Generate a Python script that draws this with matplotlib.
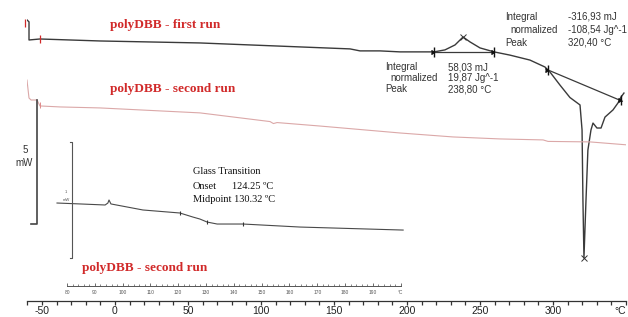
import matplotlib.pyplot as plt
from matplotlib.ticker import FixedLocator

# DSC traces, temperature in °C and heat flow in mW (arbitrary offset)
first_run_T = [-60.3, -58.9, -58.9, -51.4, -10.3, 58.2, 126.7, 161.0, 167.8, 181.5, 195.2,
               218.5, 226.0, 232.9, 238.4, 243.2, 250.0, 259.6, 270.5, 284.2, 294.5, 297.9,
               304.8, 311.6, 318.5, 319.9, 320.5, 321.2, 322.6, 323.9, 326.0, 327.4, 330.1,
               332.9, 335.6, 341.1, 344.5, 346.6, 348.6]
first_run_mW = [8.23, 8.15, 7.42, 7.46, 7.38, 7.30, 7.14, 7.06, 6.98, 6.98, 6.94,
                6.94, 7.02, 7.22, 7.54, 7.34, 7.10, 6.94, 6.81, 6.61, 6.33, 6.13,
                5.60, 5.10, 4.80, 3.79, 0.97, -1.37, 0.97, 2.98, 3.79, 4.07, 3.87,
                3.87, 4.31, 4.60, 4.88, 5.12, 5.28]

second_run_T = [-61.0, -60.3, -58.9, -57.5, -53.4, -51.4, -37.7, -10.3, 58.2, 106.2, 108.5,
                111.0, 140.4, 195.2, 231.5, 263.7, 293.2, 296.6, 325.3, 350.7]
second_run_mW = [5.32, 5.81, 5.08, 5.00, 5.00, 4.76, 4.72, 4.68, 4.48, 4.13, 4.05,
                 4.09, 3.95, 3.67, 3.51, 3.43, 3.39, 3.33, 3.31, 3.19]

# zoomed glass transition (second run)
inset_T = [76.4, 84.7, 93.7, 94.7, 95.1, 95.8, 107.3, 120.6, 125.3, 127.8, 130.4,
           134.0, 143.3, 163.8, 200.9]
inset_mW = [0.474, 0.466, 0.457, 0.474, 0.500, 0.466, 0.414, 0.388, 0.353, 0.336, 0.310,
            0.293, 0.293, 0.267, 0.241]

melt_base_T = [296.6, 347.5]
melt_base_mW = [6.21, 4.95]
cryst_base_T = [218.5, 259.6]
cryst_base_mW = [6.94, 6.94]
peaks_T = [238.4, 321.2]
peaks_mW = [7.54, -1.37]
limits_T = [218.5, 259.6, 296.6, 346.6]
limits_mW = [6.94, 6.94, 6.21, 5.00]
tg_marks_T = [120.6, 130.4, 143.3]
tg_marks_mW = [0.39, 0.31, 0.293]

main_ticks = [-50, 0, 50, 100, 150, 200, 250, 300, 350]
main_labels = ['-50', '0', '50', '100', '150', '200', '250', '300', '°C']
main_minor = list(range(-60, 351, 10))
inset_ticks = [80, 90, 100, 110, 120, 130, 140, 150, 160, 170, 180, 190, 200]
inset_labels = [str(t) for t in inset_ticks[:-1]] + ['°C']
inset_minor = list(range(80, 201, 2))

red = '#d12a2a'
W, H = 628, 317
fig = plt.figure(figsize=(6.28, 3.17), dpi=100)

# main axes
ax = fig.add_axes([27.4 / W, 16 / H, (626 - 27.4) / W, 301 / H])
ax.patch.set_alpha(0)
ax.set_xlim(-60, 350)
ax.set_ylim(-3.105, 9.032)
for s in ['left', 'right', 'top']:
    ax.spines[s].set_visible(False)
ax.spines['bottom'].set_color('#333333')
ax.spines['bottom'].set_linewidth(0.9)
ax.set_yticks([])
ax.xaxis.set_major_locator(FixedLocator(main_ticks))
ax.set_xticklabels(main_labels, fontsize=7.5, family='Liberation Sans', color='#222222')
ax.xaxis.set_minor_locator(FixedLocator(main_minor))
ax.tick_params(axis='x', which='both', direction='out', length=2.8, width=0.9,
               color='#333333', pad=0.5)
ax.get_xticklabels()[-1].set_ha('right')

ax.plot(first_run_T, first_run_mW, color='#3a3a3a', lw=1.0)
ax.plot(second_run_T, second_run_mW, color='#dba8a8', lw=0.8)
ax.plot(cryst_base_T, cryst_base_mW, color='#3a3a3a', lw=0.9)
ax.plot(melt_base_T, melt_base_mW, color='#3a3a3a', lw=0.9)
ax.plot(peaks_T, peaks_mW, ls='none', marker='x', ms=5, mew=0.7, color='#333333')
ax.plot(limits_T, limits_mW, ls='none', marker='|', ms=7, mew=1.0, color='#111111')
ax.plot(limits_T, limits_mW, ls='none', marker=5, ms=3, color='#111111')
ax.plot([-61.6, -51.4], [8.1, 7.46], ls='none', marker='|', ms=6, mew=0.9, color=red,
        clip_on=False)
ax.plot([-51.4], [4.78], ls='none', marker='|', ms=5, mew=0.7, color='#e08a8a')

# 5 mW scale bar
ax.plot([-57.5, -53.4, -53.4], [0, 0, 5], color='#444444', lw=1.2, clip_on=False)
ax.text(-61.6, 2.98, '5', fontsize=7, family='Liberation Sans', ha='center', va='center',
        color='#333333')
ax.text(-62.5, 2.46, 'mW', fontsize=7, family='Liberation Sans', ha='center', va='center',
        color='#333333')

title_kw = dict(fontsize=9.5, family='Liberation Serif', weight='bold', color=red,
                ha='left', va='center')
ax.text(-3.4, 8.02, 'polyDBB - first run', **title_kw)
ax.text(-3.4, 5.44, 'polyDBB - second run', **title_kw)
ax.text(-22.6, -1.77, 'polyDBB - second run', **title_kw)

ann_kw = dict(fontsize=7, family='Liberation Sans', color='#333333', va='center')
ax.text(267.1, 8.35, 'Integral', **ann_kw)
ax.text(270.5, 7.82, 'normalized', **ann_kw)
ax.text(267.1, 7.30, 'Peak', **ann_kw)
ax.text(310.3, 8.35, '-316,93 mJ', **ann_kw)
ax.text(310.3, 7.82, '-108,54 Jg^-1', **ann_kw)
ax.text(310.3, 7.30, '320,40 °C', **ann_kw)
ax.text(184.9, 6.33, 'Integral', **ann_kw)
ax.text(188.4, 5.89, 'normalized', **ann_kw)
ax.text(184.9, 5.44, 'Peak', **ann_kw)
ax.text(228.1, 6.33, '58,03 mJ', **ann_kw)
ax.text(228.1, 5.89, '19,87 Jg^-1', **ann_kw)
ax.text(228.1, 5.44, '238,80 °C', **ann_kw)

tg_kw = dict(fontsize=7.5, family='Liberation Serif', color='#111111', va='center')
ax.text(53.4, 2.10, 'Glass Transition', **tg_kw)
ax.text(53.4, 1.53, 'Onset', **tg_kw)
ax.text(80.1, 1.53, '124.25 ºC', **tg_kw)
ax.text(53.4, 0.97, 'Midpoint 130.32 ºC', **tg_kw)

# inset: zoom on the glass transition
ins = fig.add_axes([55.9 / W, 31 / H, 350.3 / W, 146 / H])
ins.patch.set_alpha(0)
ins.set_xlim(76, 202)
ins.set_ylim(-0.241, 1.017)
for s in ['left', 'right', 'top']:
    ins.spines[s].set_visible(False)
ins.spines['bottom'].set_bounds(80, 200)
ins.spines['bottom'].set_color('#555555')
ins.spines['bottom'].set_linewidth(0.7)
ins.set_yticks([])
ins.xaxis.set_major_locator(FixedLocator(inset_ticks))
ins.set_xticklabels(inset_labels, fontsize=3.5, family='Liberation Sans', color='#555555')
ins.xaxis.set_minor_locator(FixedLocator(inset_minor))
ins.tick_params(axis='x', which='major', direction='in', length=2.5, width=0.6,
                color='#555555', pad=3)
ins.tick_params(axis='x', which='minor', direction='in', length=1.5, width=0.5,
                color='#555555')

ins.plot(inset_T, inset_mW, color='#4a4a4a', lw=0.8, clip_on=False)
ins.plot(tg_marks_T, tg_marks_mW, ls='none', marker='|', ms=3, mew=0.8, color='#333333')
ins.plot([81.1, 81.8, 81.8, 81.1], [1.0, 1.0, 0.0, 0.0], color='#555555', lw=0.8)
ins.text(79.6, 0.56, '1', fontsize=3, family='Liberation Sans', ha='center', color='#555555')
ins.text(79.6, 0.49, 'mW', fontsize=3, family='Liberation Sans', ha='center', color='#555555')

fig.savefig('out.png', dpi=100)
